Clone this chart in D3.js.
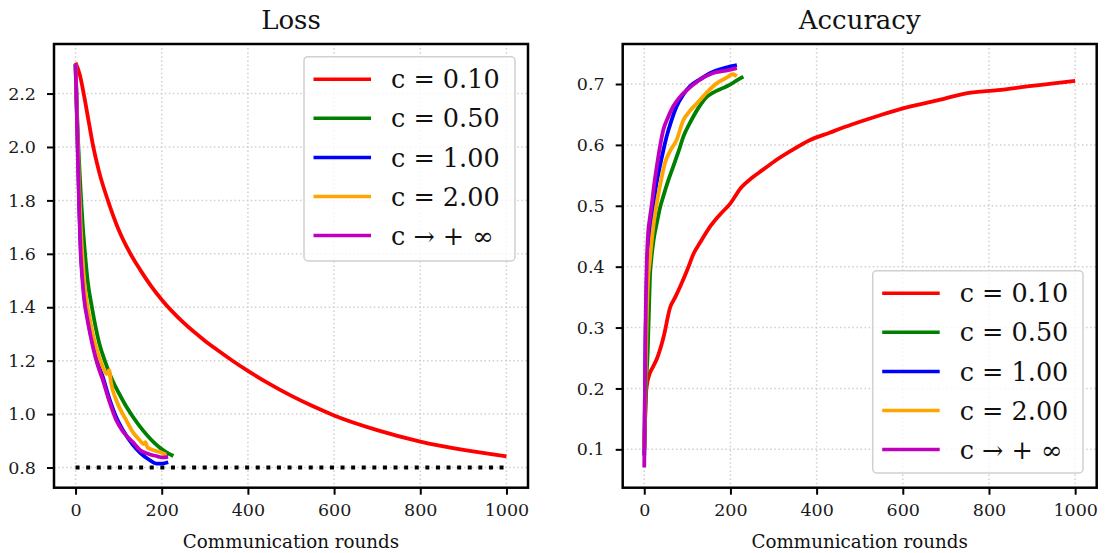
<!DOCTYPE html>
<html><head><meta charset="utf-8">
<script src="https://cdn.jsdelivr.net/npm/d3@7"></script>
<style>
html,body{margin:0;padding:0;background:#fff;}
svg{display:block;font-family:"DejaVu Serif",serif;}
</style></head>
<body>
<svg id="chart" width="1105" height="553"></svg>
<script>
// ---------- data ----------
const seriesLabels = ["c = 0.10", "c = 0.50", "c = 1.00", "c = 2.00", "c \u2192 + \u221E"];
const seriesColors = ["#ff0000", "#008000", "#0000ff", "#ffa500", "#bf00bf"];
const xTicks = [0, 200, 400, 600, 800, 1000];
const lossTicks = [0.8, 1.0, 1.2, 1.4, 1.6, 1.8, 2.0, 2.2];
const accTicks = [0.1, 0.2, 0.3, 0.4, 0.5, 0.6, 0.7];
const lossTarget = 0.8;

// loss: [round, value]
const lossC010 = [[0,2.315],[10,2.27],[20,2.19],[30,2.10],[40,2.01],[55,1.905],[75,1.80],[100,1.69],[125,1.607],[150,1.54],[175,1.48],[200,1.428],[250,1.343],[300,1.275],[330,1.239],[365,1.199],[400,1.162],[450,1.113],[500,1.069],[550,1.03],[600,0.995],[700,0.94],[800,0.897],[900,0.866],[1000,0.842]];
const lossC050 = [[0,2.31],[3,2.15],[6,2.02],[9,1.92],[13,1.80],[17,1.70],[22,1.60],[28,1.50],[38,1.40],[46,1.33],[55,1.265],[70,1.19],[86,1.125],[100,1.08],[117,1.03],[133,0.99],[156,0.94],[175,0.905],[195,0.875],[210,0.858],[227,0.843]];
const lossC100 = [[0,2.31],[3,2.13],[6,1.94],[9,1.76],[12,1.62],[16,1.52],[20,1.45],[28,1.36],[40,1.265],[50,1.20],[63,1.14],[78,1.06],[94,0.99],[110,0.94],[133,0.885],[150,0.855],[170,0.83],[187,0.815],[200,0.815],[215,0.82]];
const lossC200 = [[0,2.31],[4,2.08],[8,1.86],[12,1.70],[16,1.59],[20,1.50],[26,1.42],[35,1.34],[47,1.254],[60,1.19],[72,1.15],[78,1.165],[82,1.12],[95,1.05],[117,0.979],[130,0.94],[148,0.904],[158,0.888],[162,0.895],[167,0.875],[187,0.862],[200,0.855],[210,0.848]];
const lossCinf = [[0,2.31],[3,2.12],[6,1.92],[9,1.74],[12,1.60],[16,1.50],[20,1.43],[28,1.35],[40,1.254],[50,1.19],[63,1.129],[78,1.05],[94,0.979],[110,0.935],[133,0.895],[150,0.865],[171,0.85],[190,0.842],[200,0.838],[215,0.84]];

// accuracy: [round, value]
const accC010 = [[0,0.10],[2,0.15],[5,0.20],[13,0.225],[20,0.235],[30,0.25],[45,0.285],[60,0.333],[72,0.35],[85,0.37],[100,0.395],[115,0.422],[130,0.44],[150,0.463],[175,0.485],[200,0.504],[225,0.53],[250,0.546],[275,0.559],[300,0.572],[340,0.59],[385,0.608],[430,0.62],[480,0.633],[540,0.647],[600,0.66],[680,0.673],[750,0.685],[820,0.69],[900,0.697],[950,0.701],[1000,0.705]];
const accC050 = [[0,0.10],[4,0.20],[8,0.26],[11,0.33],[13,0.378],[17,0.416],[22,0.445],[29,0.471],[36,0.495],[44,0.515],[55,0.54],[67,0.564],[80,0.59],[91,0.614],[106,0.636],[125,0.66],[145,0.679],[160,0.686],[185,0.694],[199,0.699],[215,0.706],[230,0.712]];
const accC100 = [[0,0.09],[3,0.28],[6,0.38],[9,0.433],[15,0.47],[21,0.499],[28,0.535],[36,0.564],[44,0.59],[52,0.614],[63,0.64],[75,0.663],[90,0.682],[106,0.696],[130,0.708],[160,0.72],[190,0.727],[215,0.731]];
const accC200 = [[0,0.10],[3,0.22],[6,0.32],[9,0.38],[13,0.41],[17,0.44],[21,0.466],[27,0.495],[33,0.52],[40,0.545],[48,0.57],[60,0.59],[75,0.608],[91,0.641],[105,0.655],[122,0.668],[145,0.686],[168,0.701],[190,0.71],[205,0.716],[215,0.713]];
const accCinf = [[0,0.07],[3,0.30],[6,0.41],[9,0.455],[13,0.48],[17,0.50],[23,0.535],[29,0.564],[36,0.595],[44,0.624],[55,0.645],[67,0.663],[82,0.678],[99,0.69],[125,0.705],[160,0.718],[190,0.722],[215,0.726]];

const lossSeries = [lossC010, lossC050, lossC100, lossC200, lossCinf];
const accSeries = [accC010, accC050, accC100, accC200, accCinf];

// ---------- layout ----------
const svg = d3.select("#chart");
const plotTop = 44, plotBottom = 487.7;
const tickFont = 17.5, titleFont = 26, legendFont = 25.5;

function panel(opts) {
  const {x0, x1, yDomain, yTicks, series, title, legendPos, refLine} = opts;
  const x = d3.scaleLinear().domain([-50, 1050]).range([x0, x1]);
  const y = d3.scaleLinear().domain(yDomain).range([plotBottom, plotTop]);
  const g = svg.append("g");

  // grid
  g.append("g").selectAll("line").data(xTicks).join("line")
    .attr("x1", d => x(d)).attr("x2", d => x(d)).attr("y1", plotTop).attr("y2", plotBottom)
    .attr("stroke", "#cfcfcf").attr("stroke-width", 1.5).attr("stroke-dasharray", "1.5,2.6");
  g.append("g").selectAll("line").data(yTicks).join("line")
    .attr("x1", x0).attr("x2", x1).attr("y1", d => y(d)).attr("y2", d => y(d))
    .attr("stroke", "#cfcfcf").attr("stroke-width", 1.5).attr("stroke-dasharray", "1.5,2.6");

  // axes
  const xa = g.append("g").attr("transform", `translate(0,${plotBottom})`)
    .call(d3.axisBottom(x).tickValues(xTicks).tickFormat(d3.format("d")).tickSize(7).tickPadding(9));
  const ya = g.append("g").attr("transform", `translate(${x0},0)`)
    .call(d3.axisLeft(y).tickValues(yTicks).tickFormat(d3.format(".1f")).tickSize(7).tickPadding(11));
  [xa, ya].forEach(a => {
    a.select(".domain").remove();
    a.selectAll(".tick line").attr("stroke", "#000").attr("stroke-width", 2);
    a.selectAll(".tick text").attr("fill", "#1a1a1a").style("font-size", tickFont + "px")
      .style("font-family", "'DejaVu Serif', serif");
  });

  // reference line
  if (refLine !== undefined) {
    g.append("line").attr("x1", x(0)).attr("x2", x(1000)).attr("y1", y(refLine)).attr("y2", y(refLine))
      .attr("stroke", "#000").attr("stroke-width", 4).attr("stroke-dasharray", "4,6.6");
  }

  // lines
  const line = d3.line().x(d => x(d[0])).y(d => y(d[1])).curve(d3.curveMonotoneX);
  series.forEach((s, i) => {
    g.append("path").datum(s).attr("d", line).attr("fill", "none")
      .attr("stroke", seriesColors[i]).attr("stroke-width", 3.8)
      .attr("stroke-linejoin", "round").attr("stroke-linecap", "butt");
  });

  // frame
  g.append("rect").attr("x", x0).attr("y", plotTop).attr("width", x1 - x0).attr("height", plotBottom - plotTop)
    .attr("fill", "none").attr("stroke", "#000").attr("stroke-width", 2.5);

  // title
  g.append("text").attr("x", (x0 + x1) / 2).attr("y", 29).attr("text-anchor", "middle")
    .style("font-size", titleFont + "px").attr("fill", "#111").text(title);
  // x label
  g.append("text").attr("x", (x0 + x1) / 2).attr("y", 548).attr("text-anchor", "middle")
    .style("font-size", "18.3px").attr("fill", "#111").text("Communication rounds");

  // legend
  const L = legendPos;
  const lg = g.append("g");
  lg.append("rect").attr("x", L.x).attr("y", L.y).attr("width", L.w).attr("height", L.h)
    .attr("rx", 4).attr("fill", "#fff").attr("fill-opacity", 0.8)
    .attr("stroke", "#d0d0d0").attr("stroke-width", 1.5);
  seriesLabels.forEach((lab, i) => {
    const cy = L.y + 22.5 + i * 39.1;
    lg.append("line").attr("x1", L.x + 9.5).attr("x2", L.x + 67).attr("y1", cy).attr("y2", cy)
      .attr("stroke", seriesColors[i]).attr("stroke-width", 3.5);
    lg.append("text").attr("x", L.x + 87).attr("y", cy).attr("dy", "0.36em")
      .style("font-size", legendFont + "px").attr("fill", "#111").text(lab);
  });
}

panel({x0: 54, x1: 528, yDomain: [0.7245, 2.3855], yTicks: lossTicks, series: lossSeries, title: "Loss",
  legendPos: {x: 304, y: 56.7, w: 211, h: 204.3}, refLine: lossTarget});
panel({x0: 622.7, x1: 1096.7, yDomain: [0.037, 0.7657], yTicks: accTicks, series: accSeries, title: "Accuracy",
  legendPos: {x: 872.7, y: 270.7, w: 210.3, h: 202.3}});
</script>
</body></html>
